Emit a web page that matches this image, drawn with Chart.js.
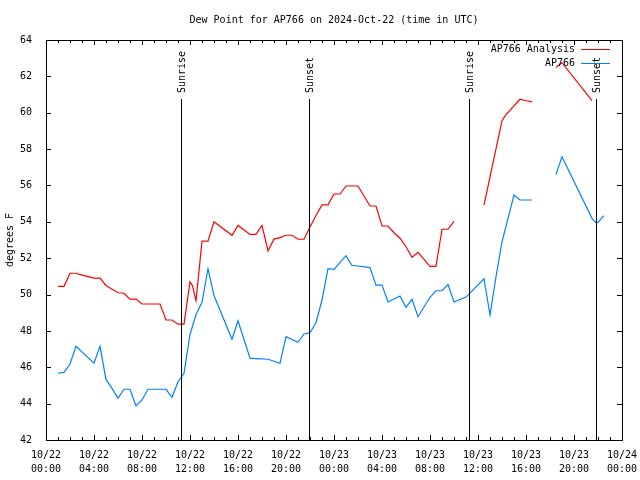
<!DOCTYPE html>
<html>
<head>
<meta charset="utf-8">
<script src="https://cdn.jsdelivr.net/npm/chart.js@4"></script>
<style>
  body { margin: 0; background: #fff; }
  canvas { display: block; }
</style>
</head>
<body>
<canvas id="dewChart" width="640" height="480"></canvas>
<script>
// =========================
// Data (hours since 2024-10-22 00:00 UTC)
// =========================

const analysisHours = [1, 1.5, 2, 2.5, 3, 4, 4.5, 5, 6, 6.5, 7, 7.5, 8, 9.5, 10, 10.5, 11, 11.5,
    12, 12.2, 12.5, 13, 13.5, 14, 15.5, 16, 17, 17.5, 18, 18.5, 19, 19.5, 20, 20.5, 21, 21.5,
    22, 22.5, 23, 23.5, 24, 24.5, 25, 26, 27, 27.5, 28, 28.5, 29, 29.5, 30, 30.5, 31, 31.5,
    32, 32.5, 33, 33.5, 34, 35, 36.5, 38, 38.3, 39.5, 40, 40.5, 41.5, 42.5, 43, 45.5];
const analysisValues = [50.45, 50.45, 51.17, 51.17, 51.07, 50.9, 50.9, 50.5, 50.1, 50.07, 49.75, 49.75, 49.48, 49.48, 48.6, 48.6, 48.37, 48.37,
    50.7, 50.5, 49.66, 52.94, 52.94, 54.0, 53.26, 53.8, 53.31, 53.31, 53.8, 52.4, 53.05, 53.13, 53.26, 53.26, 53.04, 53.04,
    53.72, 54.35, 54.93, 54.93, 55.53, 55.53, 55.97, 55.97, 54.87, 54.87, 53.77, 53.77, 53.4, 53.1, 52.63, 52.05, 52.32, 51.93,
    51.55, 51.55, 53.59, 53.59, 54.03, null, 54.92, 59.56, 59.87, 60.74, 60.66, 60.6, null, 62.5, 62.75, 60.66];

const stationHours = [1, 1.5, 2, 2.5, 4, 4.5, 5, 5.5, 6, 6.5, 7, 7.5, 8, 8.5, 10, 10.5, 11, 11.5,
    12, 12.5, 13, 13.5, 14, 15.5, 16, 17, 17.5, 18.5, 19.5, 20, 21, 21.5, 22, 22.5, 23, 23.5,
    24, 25, 25.5, 26, 27, 27.5, 28, 28.5, 29.5, 30, 30.5, 31, 32, 32.5, 33, 33.5, 34, 35,
    36.5, 37, 37.5, 38, 39, 39.5, 40.5, 41.5, 42.5, 43, 45.5, 45.8, 46, 46.5];
const stationValues = [45.67, 45.72, 46.18, 47.15, 46.22, 47.15, 45.33, 44.84, 44.3, 44.79, 44.79, 43.87, 44.2, 44.79, 44.79, 44.35, 45.2, 45.67,
    47.8, 48.9, 49.57, 51.42, 49.95, 47.54, 48.56, 46.5, 46.48, 46.44, 46.22, 47.68, 47.37, 47.83, 47.9, 48.45, 49.7, 51.42,
    51.39, 52.14, 51.6, 51.57, 51.48, 50.52, 50.52, 49.59, 49.92, 49.3, 49.74, 48.78, 49.85, 50.21, 50.21, 50.56, 49.59, 49.86,
    50.87, 48.87, 50.98, 52.9, 55.47, 55.2, 55.2, null, 56.61, 57.58, 54.19, 53.97, 53.97, 54.34];

const sunLabels = ['Sunrise', 'Sunset', 'Sunrise', 'Sunset'];
const sunHours = [11.22, 21.9, 35.22, 45.82];

const dayLabels = ['10/22', '10/23', '10/24'];

const FONT = 'DejaVu Sans Mono';

function toPoints(hours, values) {
    return hours.map((h, i) => ({ x: h, y: values[i] }));
}

function hourLabel(v) {
    const day = dayLabels[Math.floor(v / 24)];
    const hh = String(v % 24).padStart(2, '0');
    return [day, hh + ':00'];
}

// =========================
// gnuplot-style frame, ticks, sun lines, legend
// =========================

const framePlugin = {
    id: 'frame',
    afterDatasetsDraw(chart) {
        const { ctx, chartArea: a, scales: { x, y } } = chart;
        ctx.save();
        ctx.strokeStyle = '#000';
        ctx.lineWidth = 1;

        // sunrise / sunset lines
        ctx.fillStyle = '#000';
        ctx.font = '10px ' + FONT;
        sunHours.forEach((h, i) => {
            const px = Math.round(x.getPixelForValue(h)) + 0.5;
            ctx.beginPath();
            ctx.moveTo(px, a.top + 59);
            ctx.lineTo(px, a.bottom);
            ctx.stroke();
            ctx.save();
            ctx.translate(px + 1, a.top + 53);
            ctx.rotate(-Math.PI / 2);
            ctx.textAlign = 'left';
            ctx.textBaseline = 'middle';
            ctx.fillText(sunLabels[i], 0, 0);
            ctx.restore();
        });

        // border box
        ctx.strokeRect(a.left + 0.5, a.top + 0.5, a.right - a.left, a.bottom - a.top);

        // x ticks (major every 4h, minor every hour), top and bottom
        ctx.beginPath();
        for (let h = 0; h <= 48; h++) {
            const px = Math.round(x.getPixelForValue(h)) + 0.5;
            const len = h % 4 === 0 ? 5 : 3;
            ctx.moveTo(px, a.bottom);
            ctx.lineTo(px, a.bottom - len);
            ctx.moveTo(px, a.top);
            ctx.lineTo(px, a.top + len);
        }
        // y ticks, left and right
        y.ticks.forEach(t => {
            const py = Math.round(y.getPixelForValue(t.value)) + 0.5;
            ctx.moveTo(a.left, py);
            ctx.lineTo(a.left + 5, py);
            ctx.moveTo(a.right, py);
            ctx.lineTo(a.right - 5, py);
        });
        ctx.stroke();

        // legend
        ctx.textAlign = 'right';
        ctx.textBaseline = 'middle';
        chart.data.datasets.forEach((ds, i) => {
            const ly = a.top + 9 + i * 14;
            ctx.fillStyle = '#000';
            ctx.fillText(ds.label, a.right - 47, ly);
            ctx.strokeStyle = ds.borderColor;
            ctx.beginPath();
            ctx.moveTo(a.right - 41, ly + 0.5);
            ctx.lineTo(a.right - 12, ly + 0.5);
            ctx.stroke();
        });
        ctx.restore();
    }
};

// =========================
// Dew Point Chart
// =========================

const dewCtx = document.getElementById('dewChart');

new Chart(dewCtx, {
    type: 'line',
    data: {
        datasets: [{
            label: 'AP766 Analysis',
            data: toPoints(analysisHours, analysisValues),
            borderColor: '#ff0000',
            borderWidth: 1.2,
            pointRadius: 0,
            tension: 0,
            spanGaps: false
        }, {
            label: 'AP766',
            data: toPoints(stationHours, stationValues),
            borderColor: '#0080ff',
            borderWidth: 1.2,
            pointRadius: 0,
            tension: 0,
            spanGaps: false
        }]
    },
    options: {
        responsive: false,
        animation: false,
        layout: {
            padding: { left: 0, right: 18, top: 0, bottom: 0 }
        },
        plugins: {
            legend: { display: false },
            tooltip: { enabled: false },
            title: {
                display: true,
                fullSize: false,
                text: 'Dew Point for AP766 on 2024-Oct-22 (time in UTC)',
                color: '#000',
                font: { family: FONT, size: 10, weight: 'normal' },
                padding: { top: 14, bottom: 14 }
            }
        },
        scales: {
            x: {
                type: 'linear',
                min: 0,
                max: 48,
                grid: { display: false },
                border: { display: false },
                ticks: {
                    stepSize: 4,
                    autoSkip: false,
                    maxRotation: 0,
                    padding: 0,
                    color: '#000',
                    font: { family: FONT, size: 10, lineHeight: 1.4 },
                    callback: hourLabel
                },
                afterFit(scale) {
                    scale.height = 40;
                    scale.paddingLeft = 0;
                    scale.paddingRight = 0;
                }
            },
            y: {
                min: 42,
                max: 64,
                grid: { display: false },
                border: { display: false },
                ticks: {
                    stepSize: 2,
                    padding: 6,
                    color: '#000',
                    font: { family: FONT, size: 10 }
                },
                title: {
                    display: true,
                    text: 'degrees F',
                    color: '#000',
                    font: { family: FONT, size: 10 },
                    padding: { top: 4, bottom: 0 }
                },
                afterFit(scale) { scale.width = 46; }
            }
        }
    },
    plugins: [framePlugin]
});
</script>
</body>
</html>
